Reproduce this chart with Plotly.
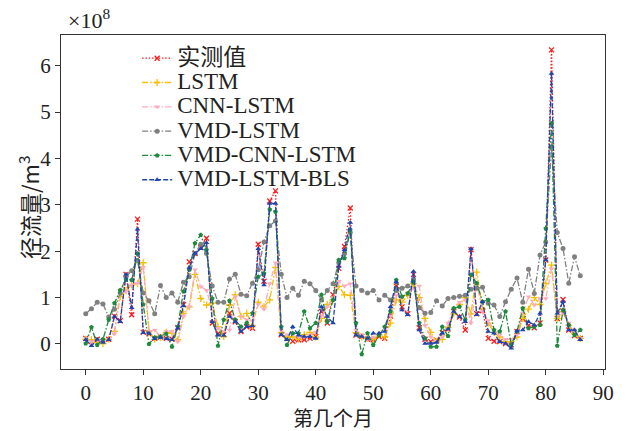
import plotly.graph_objects as go

months = list(range(87))

observed = [0.12, 0.05, 0.10, 0.05, 0.10, 0.60, 0.50, 1.50, 0.63, 2.69,
            0.25, 0.22, 0.12, 0.15, 0.12, 0.10, 0.35, 0.85, 1.77, 1.95,
            2.08, 2.28, 0.45, 0.22, 0.20, 0.66, 0.48, 0.27, 0.37, 0.34,
            2.15, 1.35, 3.08, 3.30, 0.20, 0.12, 0.06, 0.09, 0.09, 0.12,
            0.16, 0.70, 0.45, 1.06, 1.63, 2.10, 2.93, 0.19, 0.16, 0.10,
            0.09, 0.16, 0.12, 0.60, 1.25, 0.80, 0.65, 1.50, 0.35, 0.10,
            0.05, 0.08, 0.25, 0.32, 0.70, 0.58, 0.30, 2.03, 0.65, 0.72,
            0.12, 0.06, 0.05, 0.01, -0.02, 0.27, 0.55, 0.40, 0.35, 0.45,
            1.81, 6.34, 0.55, 0.96, 0.30, 0.18, 0.12]

lstm = [0.10, 0.09, 0.03, 0.01, 0.10, 0.27, 1.02, 1.16, 1.27, 1.30,
        1.75, 0.28, 0.10, 0.14, 0.25, 0.23, 0.09, 0.66, 0.80, 1.50,
        0.98, 0.84, 0.88, 0.37, 0.16, 0.84, 1.06, 0.59, 0.66, 0.40,
        0.90, 0.80, 0.95, 1.65, 0.25, 0.15, 0.15, 0.10, 0.20, 0.25,
        0.15, 0.55, 0.85, 0.95, 1.24, 1.06, 1.05, 0.25, 0.15, 0.12,
        0.10, 0.20, 0.15, 0.45, 0.95, 0.90, 1.05, 1.30, 1.00, 0.55,
        0.25, 0.05, 0.10, 0.35, 0.65, 0.85, 1.00, 0.65, 1.55, 0.75,
        0.45, 0.25, 0.15, 0.05, 0.05, 0.15, 0.55, 0.75, 1.00, 0.85,
        1.30, 1.70, 0.55, 0.70, 0.40, 0.22, 0.12]

cnn_lstm = [0.12, 0.05, 0.09, 0.05, 0.09, 0.22, 1.15, 1.13, 1.27, 1.31,
            1.65, 0.27, 0.30, 0.16, 0.27, 0.27, 0.05, 0.59, 0.80, 1.60,
            1.24, 1.16, 0.73, 0.34, 0.27, 0.30, 1.02, 0.59, 0.52, 0.50,
            0.85, 0.75, 1.30, 1.75, 0.30, 0.20, 0.22, 0.15, 0.15, 0.20,
            0.25, 0.60, 0.80, 1.00, 1.35, 1.25, 1.30, 0.30, 0.20, 0.10,
            0.15, 0.20, 0.35, 0.60, 1.05, 1.00, 1.10, 1.20, 1.25, 0.40,
            0.15, 0.05, 0.15, 0.45, 0.75, 0.90, 0.95, 0.45, 1.30, 0.70,
            0.50, 0.30, 0.20, 0.10, 0.10, 0.20, 0.66, 1.02, 0.84, 0.98,
            0.98, 1.62, 0.60, 0.66, 0.45, 0.30, 0.12]

vmd_lstm = [0.65, 0.76, 0.90, 0.86, 0.58, 0.75, 1.10, 1.45, 1.58, 1.80,
            1.10, 0.93, 0.65, 1.26, 1.00, 1.10, 0.90, 1.33, 1.45, 1.95,
            2.15, 1.95, 1.25, 0.90, 0.90, 1.40, 1.50, 1.07, 1.04, 1.31,
            1.60, 2.20, 2.55, 2.65, 1.50, 1.00, 1.20, 1.05, 1.35, 1.30,
            1.15, 0.95, 1.15, 1.30, 1.75, 1.95, 2.40, 1.25, 1.15, 1.10,
            1.15, 0.95, 1.05, 0.95, 1.15, 1.20, 1.25, 1.40, 0.78, 0.66,
            0.68, 0.93, 0.82, 0.98, 1.00, 1.03, 1.05, 1.18, 1.20, 1.22,
            0.88, 0.84, 0.59, 0.91, 1.18, 1.42, 0.90, 1.61, 1.09, 1.92,
            2.20, 4.25, 2.40, 2.06, 1.31, 1.88, 1.47]

vmd_cnn_lstm = [0.01, 0.36, -0.02, 0.10, 0.52, 0.88, 1.16, 1.39, 1.38, 1.95,
                0.85, 0.00, 0.14, 0.16, 0.22, -0.06, 0.37, 1.13, 1.60, 2.17,
                2.35, 2.03, 0.98, -0.04, 0.52, 0.93, 0.52, 0.37, 0.45, 0.66,
                1.45, 1.52, 2.90, 2.85, 0.37, -0.02, 0.23, 0.23, 0.70, 0.34,
                0.45, 1.06, 0.48, 0.95, 1.81, 1.85, 2.46, 0.45, -0.22, 0.23,
                -0.02, 0.19, 0.37, 0.70, 1.38, 1.02, 1.09, 1.34, 0.45, 0.12,
                -0.06, -0.06, 0.37, 0.17, 0.77, 0.80, 0.52, 1.49, 1.31, 0.91,
                0.95, 0.30, 0.27, 0.70, -0.02, 0.27, 0.77, 0.34, 0.37, 0.41,
                2.49, 4.76, -0.04, 0.73, 0.41, 0.19, 0.30]

vmd_lstm_bls = [0.09, -0.04, 0.10, 0.03, 0.09, 0.59, 0.48, 1.50, 0.78, 2.47,
                0.24, 0.23, 0.11, 0.14, 0.11, 0.09, 0.34, 0.82, 1.65, 1.95,
                2.05, 2.18, 0.48, 0.19, 0.18, 0.59, 0.48, 0.27, 0.37, 0.39,
                2.05, 1.27, 3.03, 3.03, 0.20, 0.09, 0.37, 0.19, 0.16, 0.16,
                0.12, 0.80, 0.59, 0.45, 1.67, 2.03, 2.62, 0.19, 0.16, 0.12,
                0.23, 0.23, 0.27, 0.80, 1.34, 0.73, 0.63, 1.56, 0.30, 0.01,
                0.01, 0.03, 0.23, 0.32, 0.70, 0.59, 0.48, 2.05, 0.63, 0.91,
                0.27, 0.23, 0.05, 0.01, -0.09, 0.28, 0.30, 0.48, 0.41, 0.66,
                1.81, 5.83, 0.66, 0.91, 0.30, 0.30, 0.09]

x_ticks = [0, 10, 20, 30, 40, 50, 60, 70, 80, 90]
y_ticks = [0, 1, 2, 3, 4, 5, 6]

series = [
    ("实测值", observed, "#ff1a1a", "1.5px,1.8px", "x-thin", 5),
    ("LSTM", lstm, "#f5bf00", "6px,2px,1.5px,2px", "cross-thin", 5),
    ("CNN-LSTM", cnn_lstm, "#ffaabb", "6px,2px,1.5px,2px", "triangle-down", 5),
    ("VMD-LSTM", vmd_lstm, "#808080", "6px,2px,1.5px,2px", "circle", 5),
    ("VMD-CNN-LSTM", vmd_cnn_lstm, "#1e8a3c", "6px,2px,1.5px,2px", "pentagon", 5),
    ("VMD-LSTM-BLS", vmd_lstm_bls, "#1f45b0", "5px,2px", "triangle-up", 5),
]

font_main = "Liberation Serif, Times New Roman, Noto Sans CJK SC, serif"
font_cjk = "Noto Sans CJK SC, serif"

fig = go.Figure()
for name, vals, color, dash, sym, size in series:
    thin = sym.endswith("thin")
    fig.add_trace(go.Scatter(
        x=months, y=vals,
        name='<span style="font-size:23px">' + name + '</span>',
        mode="lines+markers",
        line=dict(color=color, width=1.3, dash=dash),
        marker=dict(symbol=sym, size=size, color=color,
                    line=dict(color=color, width=1.3 if thin else 0)),
    ))

fig.update_layout(
    width=628, height=431,
    margin=dict(l=61, r=23, t=35, b=62),
    paper_bgcolor="white", plot_bgcolor="white",
    font=dict(family=font_main, size=21, color="#222"),
    showlegend=True,
    legend=dict(x=0.140, y=0.982, xanchor="left", yanchor="top",
                bgcolor="rgba(0,0,0,0)", borderwidth=0,
                font=dict(size=16.4, family=font_main), itemwidth=30,
                tracegroupgap=0),
    xaxis=dict(range=[-4.3, 90.3], tickmode="array", tickvals=x_ticks,
               ticks="outside", ticklen=5, tickwidth=1.2, tickcolor="#333",
               showline=True, linecolor="#333", linewidth=1.3, mirror=True,
               showgrid=False, zeroline=False, automargin=False),
    yaxis=dict(range=[-0.54, 6.66], tickmode="array", tickvals=y_ticks,
               ticks="outside", ticklen=5, tickwidth=1.2, tickcolor="#333",
               showline=True, linecolor="#333", linewidth=1.3, mirror=True,
               showgrid=False, zeroline=False, automargin=False),
    annotations=[
        dict(text="×10<sup>8</sup>", xref="paper", yref="paper",
             x=0, y=1, xanchor="left", yanchor="bottom",
             xshift=5, yshift=0, showarrow=False,
             font=dict(size=22, family=font_main)),
        dict(text="径流量/m<sup>3</sup>", xref="paper", yref="paper",
             x=0, y=0.5, xanchor="center", yanchor="middle",
             xshift=-33, yshift=-5, textangle=-90, showarrow=False,
             font=dict(size=22, family=font_cjk)),
        dict(text="第几个月", xref="paper", yref="paper",
             x=0.5, y=0, xanchor="center", yanchor="middle",
             yshift=-48, showarrow=False, borderpad=0,
             font=dict(size=20, family=font_cjk)),
    ],
)

fig.write_html("out.html")
